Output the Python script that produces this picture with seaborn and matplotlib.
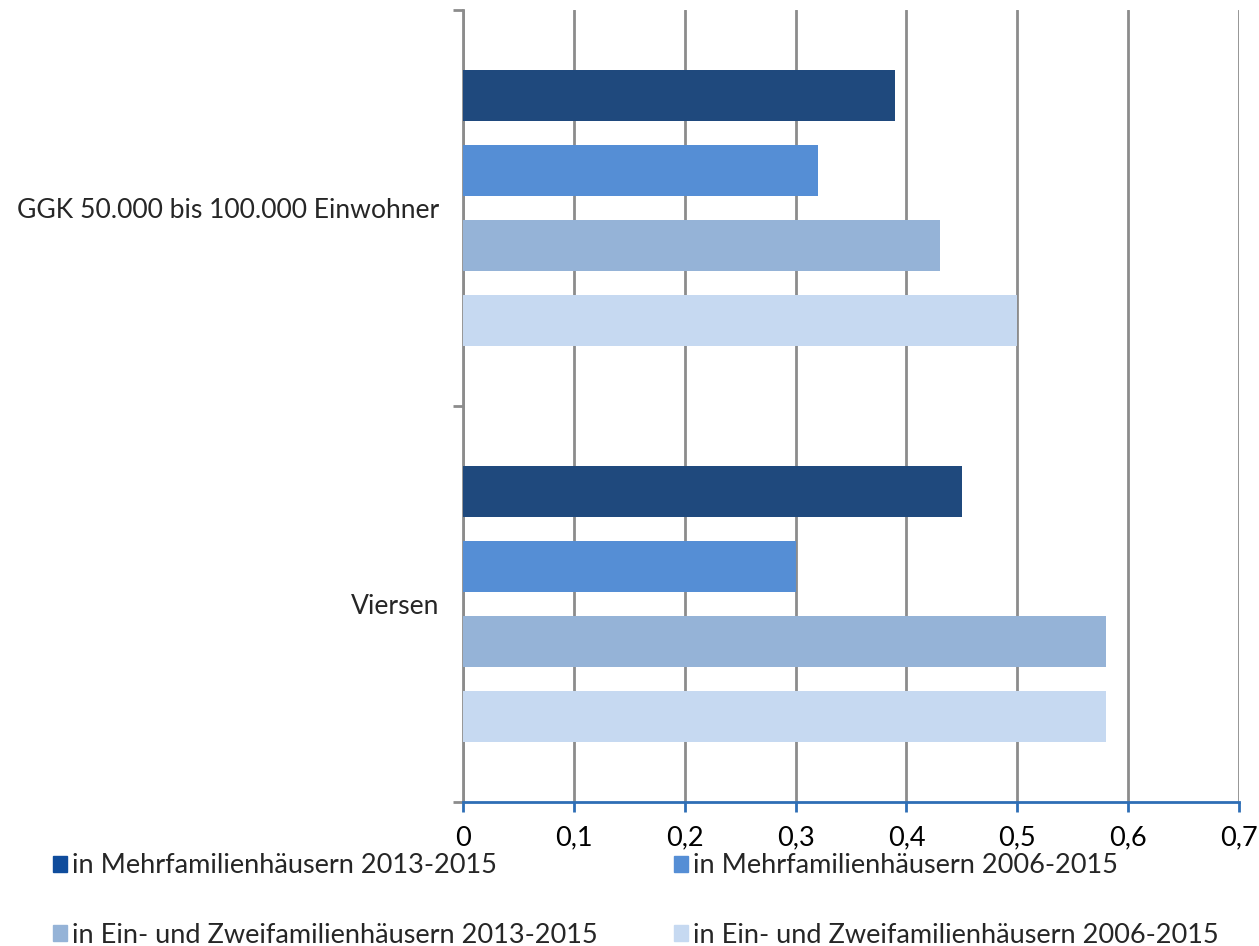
import matplotlib
matplotlib.use("Agg")
import matplotlib.pyplot as plt
from matplotlib.ticker import FuncFormatter, FixedLocator
import seaborn as sns
import pandas as pd

# -------------------- DATA --------------------
regions = ["GGK 50.000 bis 100.000 Einwohner", "Viersen"]
series = [
    "in Mehrfamilienhäusern 2013-2015",
    "in Mehrfamilienhäusern 2006-2015",
    "in Ein- und Zweifamilienhäusern 2013-2015",
    "in Ein- und Zweifamilienhäusern 2006-2015",
]
ggk_values = [0.39, 0.32, 0.43, 0.50]
viersen_values = [0.45, 0.30, 0.58, 0.58]
colors = ["#1F497D", "#558ED5", "#95B3D7", "#C6D9F1"]
legend_colors = ["#0F4C9C", "#558ED5", "#95B3D7", "#C6D9F1"]
x_ticks = [0, 0.1, 0.2, 0.3, 0.4, 0.5, 0.6, 0.7]

rows = []
for region, vals in zip(regions, [ggk_values, viersen_values]):
    for s, v in zip(series, vals):
        rows.append({"Region": region, "Serie": s, "Wert": v})
df = pd.DataFrame(rows)

sns.set_style("white")
plt.rcParams["font.family"] = ["Lato", "DejaVu Sans"]
FS = 19.5

fig = plt.figure(figsize=(12.59, 9.46), dpi=100)
ax = fig.add_axes([0.3678, 0.1522, 0.9841 - 0.3678, 0.9894 - 0.1522])

sns.barplot(data=df, x="Wert", y="Region", hue="Serie", orient="h",
            palette=colors, width=0.757, gap=0.32, ax=ax, legend=False,
            saturation=1, linewidth=0, edgecolor="none", zorder=3)

# -------------------- AXES --------------------
ax.set_xlim(0, 0.7)
ax.set_ylim(1.5, -0.5)
ax.set_xticks(x_ticks)
ax.xaxis.set_major_formatter(FuncFormatter(
    lambda v, p: "0" if v == 0 else f"{v:.1f}".replace(".", ",")))
ax.grid(axis="x", color="#8C8C8C", linewidth=2, zorder=0)
ax.grid(axis="y", visible=False)
ax.set_xlabel("")
ax.set_ylabel("")

for side in ["top", "right"]:
    ax.spines[side].set_visible(False)
ax.spines["left"].set_color("#8C8C8C")
ax.spines["left"].set_linewidth(2)
ax.spines["bottom"].set_color("#2E6EB5")
ax.spines["bottom"].set_linewidth(2)
ax.spines["bottom"].set_zorder(4)

ax.tick_params(axis="x", bottom=True, colors="#2E6EB5", direction="out",
               length=7, width=2, labelcolor="black", labelsize=FS, pad=10)
ax.tick_params(axis="y", which="major", left=False, length=0, labelsize=19.1,
               pad=17)
ax.yaxis.set_minor_locator(FixedLocator([-0.5, 0.5, 1.5]))
ax.tick_params(axis="y", which="minor", left=True, length=7, width=2,
               color="#8C8C8C", direction="out")

# -------------------- LEGEND --------------------
handles = [plt.Rectangle((0, 0), 1, 1, color=c) for c in legend_colors]
order = [0, 2, 1, 3]
fig.legend([handles[i] for i in order], [series[i] for i in order],
           loc="lower left", bbox_to_anchor=(0.0228, -0.0277), ncol=2,
           frameon=False, fontsize=FS, handlelength=0.5, handleheight=0.5,
           handletextpad=0.2, columnspacing=2.83, labelspacing=1.64)

fig.savefig("out.png", dpi=100)
